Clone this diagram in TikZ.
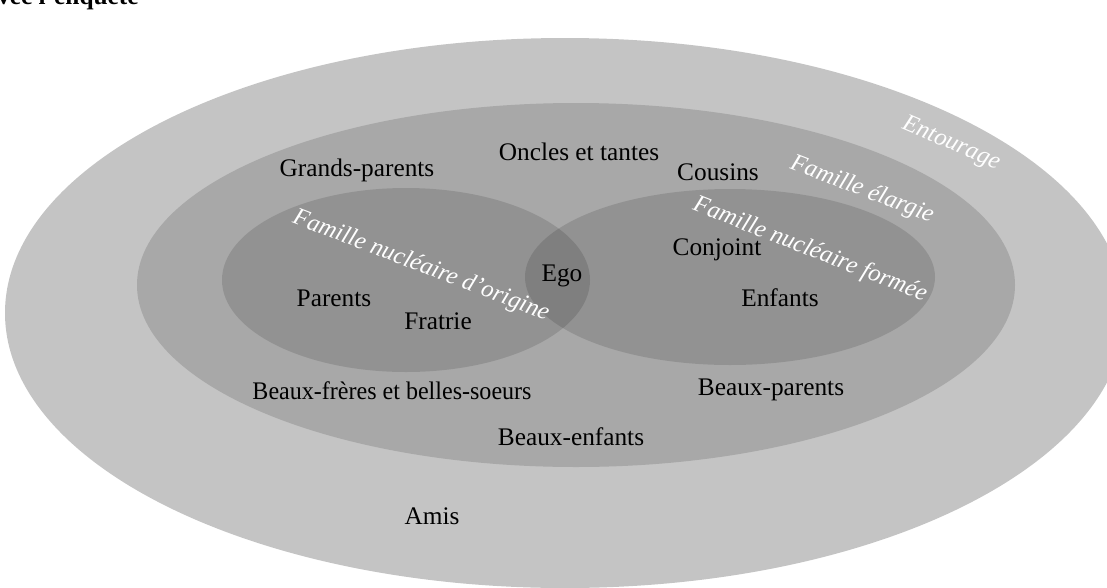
\documentclass[tikz,border=0pt]{standalone}
\usepackage{fontspec}
\setmainfont{Liberation Serif}[ItalicFont={Liberation Serif Italic}, BoldFont={Liberation Serif Bold}]
\definecolor{outergray}{RGB}{196,196,196}
\definecolor{middlegray}{RGB}{168,168,168}
\tikzset{
  member/.style={font=\fontsize{18}{20}\selectfont, inner sep=0pt},
  circlename/.style={font=\fontsize{17.5}{20}\selectfont\itshape, text=white, inner sep=0pt},
  nucleus/.style={fill=black, fill opacity=.13},
}
\begin{document}
\begin{tikzpicture}[x=0.025cm, y=-0.025cm]
    \useasboundingbox (0,0) rectangle (1107,587);

    % rings
    \fill[outergray] (565,313) ellipse [x radius=560, y radius=275];
    \fill[middlegray] (576,285) ellipse [x radius=439, y radius=182];
    \fill[nucleus] (406,280) ellipse [x radius=184, y radius=92];
    \fill[nucleus] (730,277) ellipse [x radius=205, y radius=88];

    \node[anchor=base west, font=\fontsize{18}{20}\selectfont\bfseries, inner sep=0pt] (title) at (-3,4) {vec l'enquête};

    \foreach \n/\x/\y/\t in {gp/357/170/Grands-parents, oncles/579/152/Oncles et tantes,
        cousins/718/172/Cousins, ego/562/276/Ego, parents/334/298/Parents,
        fratrie/438/321/Fratrie, conjoint/717/250/Conjoint, enfants/780/298/Enfants,
        bparents/771/390/Beaux-parents, benfants/571/437/Beaux-enfants, amis/432/516/Amis} {
      \node[member] (\n) at (\x,\y) {\t};
    }
    \node[member, xscale=.95] (bfreres) at (392,391) {Beaux-frères et belles-soeurs};

    \node[circlename, rotate=-23] (entourage) at (951,144) {Entourage};
    \node[circlename, rotate=-21] (elargie) at (862,190) {Famille élargie};
    \node[circlename, rotate=-21] (origine) at (421,266) {Famille nucléaire d'origine};
    \node[circlename, rotate=-21.5] (formee) at (810,250) {Famille nucléaire formée};

\end{tikzpicture}
\end{document}
